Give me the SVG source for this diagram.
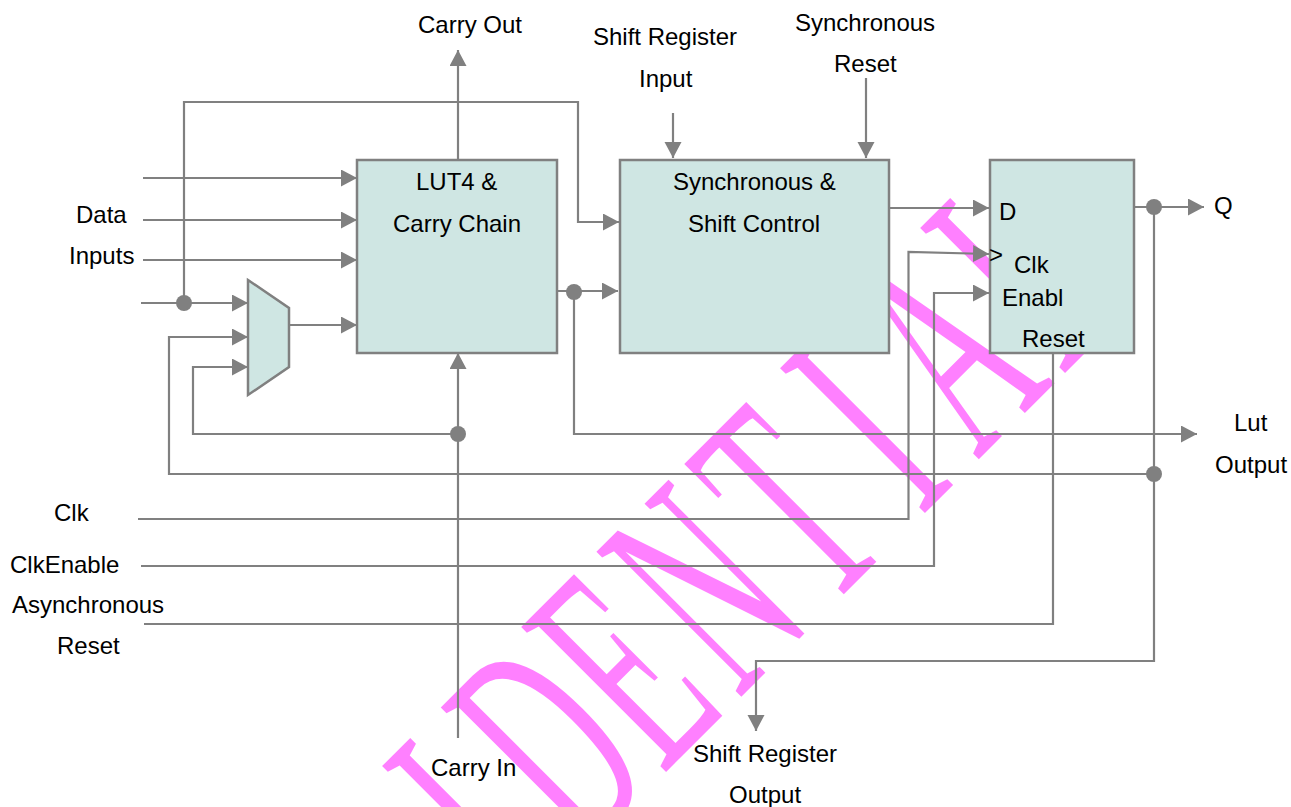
<svg xmlns="http://www.w3.org/2000/svg" width="1291" height="807" viewBox="0 0 1291 807">
<style>
text{font-family:"Liberation Sans",Arial,sans-serif;font-size:24px;fill:#000}
.box{fill:#cfe6e3;stroke:#808080;stroke-width:2.5}
.c{fill:none;stroke:#808080;stroke-width:2.2}
.a{marker-end:url(#arr)}
.dot{fill:#808080}
#watermark text{font-family:"Liberation Serif",serif;font-size:313px;fill:#ff80ff}
</style>
<defs>
<marker id="arr" markerUnits="userSpaceOnUse" markerWidth="18" markerHeight="18" refX="16" refY="8.5" orient="auto"><path d="M0,0L16,8.5L0,17Z" fill="#808080"/></marker>
</defs>
<rect width="1291" height="807" fill="#fff"/>
<g id="watermark"><text transform="translate(719,719) rotate(-45) scale(.486,1)" x="-1506 -1298 -1072 -846 -570 -397 -163 56 315 588 753 998" y="0">CONFIDENTIAL</text></g>
<g id="connectors">
<path class="c a" d="M458,160V50"/>
<path class="c a" d="M143,178H357"/>
<path class="c a" d="M143,220H357"/>
<path class="c a" d="M143,260H357"/>
<path class="c a" d="M141,303H248"/>
<path class="c a" d="M184,303V102H578V222H619"/>
<path class="c a" d="M289,325H357"/>
<path class="c a" d="M1154,474H169V337H248"/>
<path class="c a" d="M458,434H193V367H248"/>
<path class="c a" d="M458,738V353"/>
<path class="c a" d="M557,291H618"/>
<path class="c a" d="M574,291V434H1197"/>
<path class="c a" d="M673,113V158"/>
<path class="c a" d="M866,78V158"/>
<path class="c a" d="M889,208H989"/>
<path class="c a" d="M138,519H908.500V252L989,254"/>
<path class="c a" d="M141,566H934V293H989"/>
<path class="c" d="M144,624H1053V353"/>
<path class="c a" d="M1134,207H1204"/>
<path class="c a" d="M1154,207V661H756V731"/>
<circle class="dot" cx="184" cy="303" r="8"/>
<circle class="dot" cx="458" cy="434" r="8"/>
<circle class="dot" cx="574" cy="292" r="8"/>
<circle class="dot" cx="1154" cy="207" r="8"/>
<circle class="dot" cx="1154" cy="474" r="8"/>
</g>
<g id="mux"><path class="box" d="M248,280L289,308V367L248,395Z"/></g>
<g id="lut4"><rect class="box" x="357" y="160" width="200" height="193"/><text x="416" y="190">LUT4 &amp;</text><text x="393" y="232">Carry Chain</text></g>
<g id="sync"><rect class="box" x="620" y="160" width="269" height="193"/><text x="673" y="190">Synchronous &amp;</text><text x="688" y="232">Shift Control</text></g>
<g id="ff"><rect class="box" x="990" y="160" width="144" height="193"/><text x="999" y="220">D</text><text x="989" y="263">&gt;</text><text x="1014" y="273">Clk</text><text x="1002" y="306">Enabl</text><text x="1022" y="347">Reset</text></g>
<g id="labels">
<text x="418" y="33">Carry Out</text>
<text x="593" y="45">Shift Register</text>
<text x="639" y="87">Input</text>
<text x="795" y="31">Synchronous</text>
<text x="834" y="72">Reset</text>
<text x="76" y="223">Data</text>
<text x="69" y="264">Inputs</text>
<text x="1214" y="214">Q</text>
<text x="1234" y="431">Lut</text>
<text x="1215" y="473">Output</text>
<text x="54" y="521">Clk</text>
<text x="10" y="573">ClkEnable</text>
<text x="12" y="613">Asynchronous</text>
<text x="57" y="654">Reset</text>
<text x="431" y="776">Carry In</text>
<text x="693" y="762">Shift Register</text>
<text x="729" y="803">Output</text>
</g>
</svg>
